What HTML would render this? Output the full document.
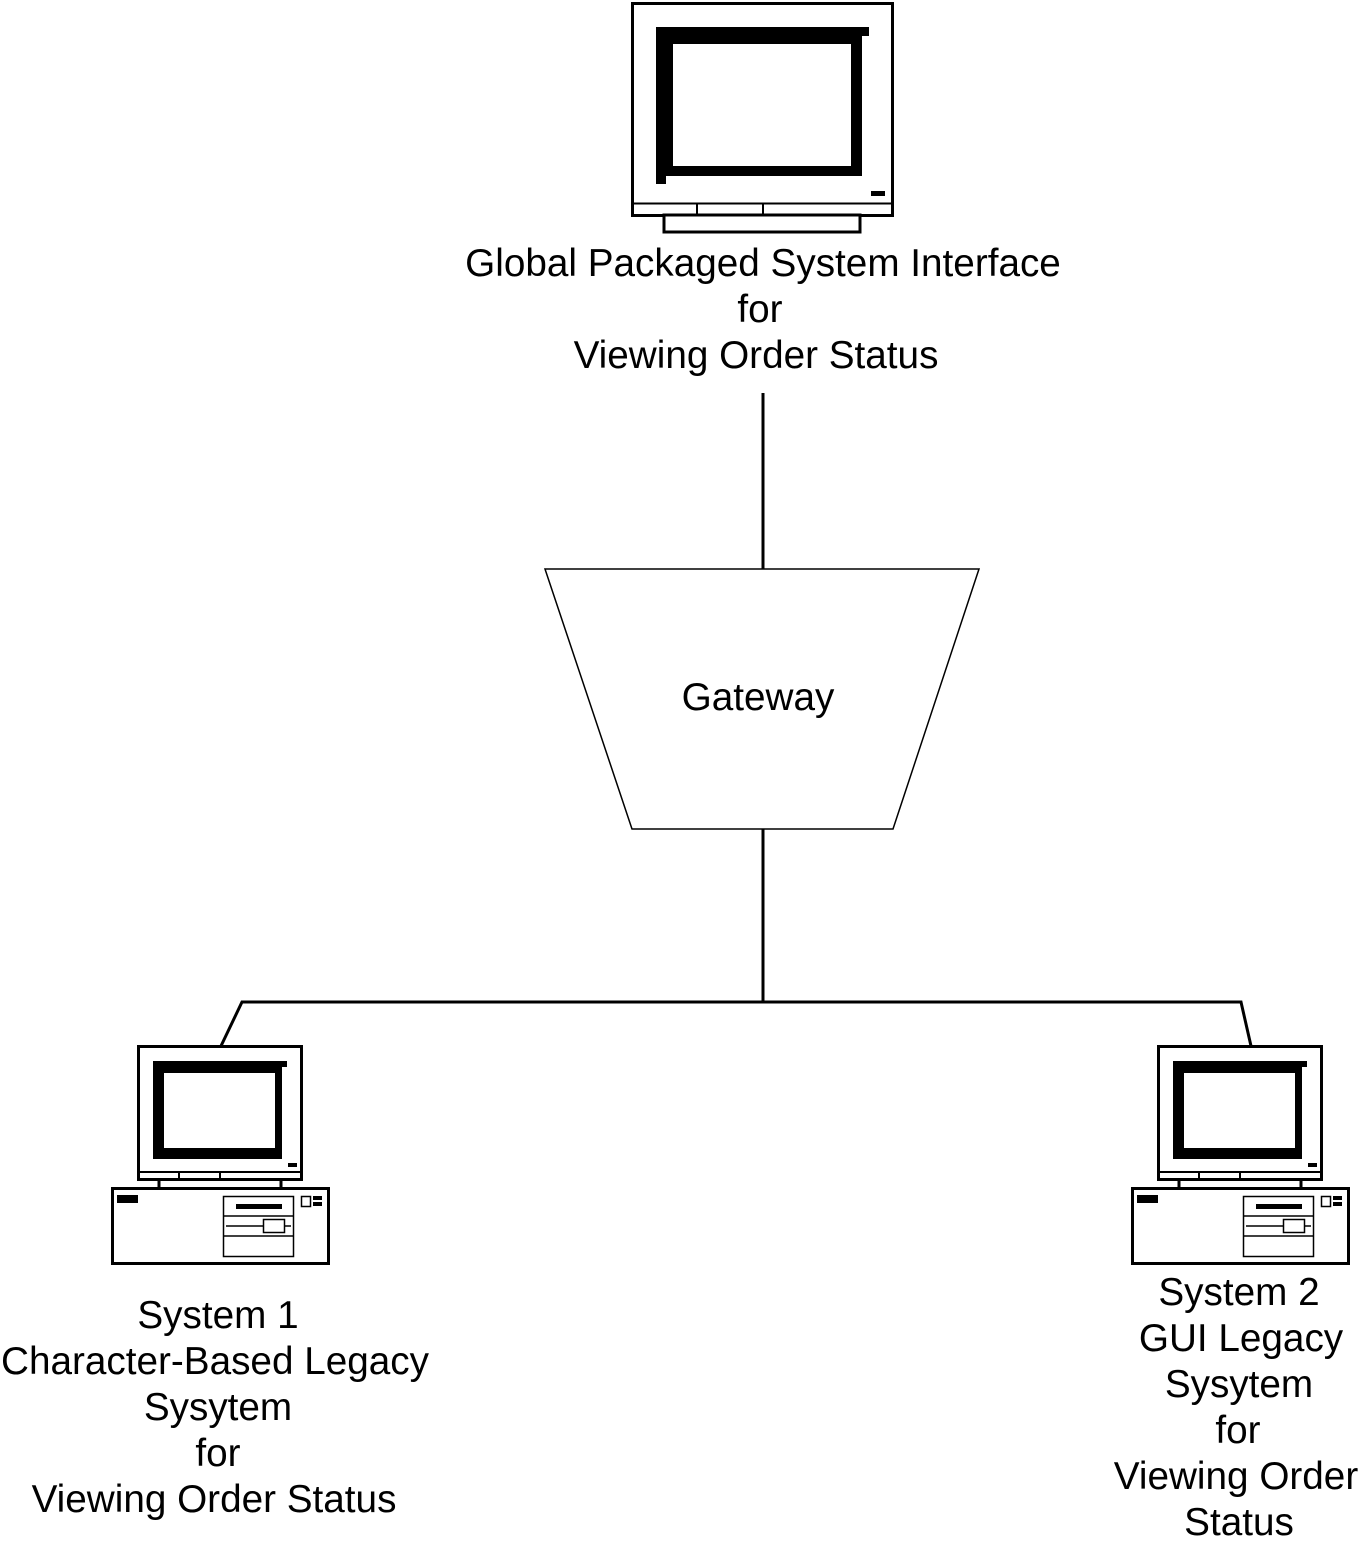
<!DOCTYPE html>
<html><head><meta charset="utf-8"><style>html,body{margin:0;padding:0;background:#fff}svg{display:block}</style></head>
<body>
<svg width="1358" height="1550" viewBox="0 0 1358 1550" xmlns="http://www.w3.org/2000/svg">
<defs>
<g id="pc">
  <rect x="138.5" y="1046.5" width="163" height="133" fill="#fff" stroke="#000" stroke-width="3"/>
  <line x1="138" y1="1172" x2="301" y2="1172" stroke="#000" stroke-width="2"/>
  <line x1="179" y1="1172" x2="179" y2="1180" stroke="#000" stroke-width="2"/>
  <line x1="220" y1="1172" x2="220" y2="1180" stroke="#000" stroke-width="2"/>
  <path d="M153 1061 H287 V1067 H282 V1159 H164 V1159 H159 V1159 H153 Z" fill="#000"/>
  <rect x="164" y="1073" width="111" height="75" fill="#fff"/>
  <rect x="288" y="1163" width="9" height="4" fill="#000"/>
  <line x1="159" y1="1180" x2="159" y2="1188" stroke="#000" stroke-width="3"/>
  <line x1="281" y1="1180" x2="281" y2="1188" stroke="#000" stroke-width="3"/>
  <rect x="112.5" y="1188.5" width="216" height="75" fill="#fff" stroke="#000" stroke-width="3"/>
  <rect x="117" y="1195" width="21" height="8" fill="#000"/>
  <rect x="223.5" y="1196.5" width="70" height="60" fill="none" stroke="#000" stroke-width="1.5"/>
  <line x1="223" y1="1216" x2="294" y2="1216" stroke="#000" stroke-width="1.5"/>
  <line x1="223" y1="1236" x2="294" y2="1236" stroke="#000" stroke-width="1.5"/>
  <rect x="236" y="1204" width="46" height="5" fill="#000"/>
  <line x1="226" y1="1226" x2="291" y2="1226" stroke="#000" stroke-width="1.5"/>
  <rect x="263.5" y="1219.5" width="21" height="13" fill="#fff" stroke="#000" stroke-width="1.5"/>
  <rect x="301.5" y="1196.5" width="9" height="10" fill="#fff" stroke="#000" stroke-width="1.5"/>
  <rect x="313" y="1196" width="9" height="4" fill="#000"/>
  <rect x="313" y="1202" width="9" height="4" fill="#000"/>
</g>
</defs>

<rect x="632.5" y="3.5" width="260" height="212" fill="#fff" stroke="#000" stroke-width="3"/>
<line x1="632" y1="203.5" x2="892" y2="203.5" stroke="#000" stroke-width="2"/>
<line x1="697" y1="203" x2="697" y2="215" stroke="#000" stroke-width="2"/>
<line x1="763" y1="203" x2="763" y2="215" stroke="#000" stroke-width="2"/>
<rect x="664" y="215" width="196" height="17" fill="#fff" stroke="#000" stroke-width="3"/>
<path d="M656 27 H869 V36 H862 V176 H666 V184 H656 Z" fill="#000"/>
<rect x="673" y="44" width="178" height="122" fill="#fff"/>
<rect x="871" y="191" width="14" height="5" fill="#000"/>

<g stroke="#000" stroke-width="3" fill="none">
<line x1="763" y1="393" x2="763" y2="569"/>
<line x1="763" y1="829" x2="763" y2="1002"/>
<polyline points="221,1046 242,1002 1241,1002 1251,1046"/>
</g>
<polygon points="545,569 979,569 893,829 632,829" fill="#fff" stroke="#000" stroke-width="1.5"/>

<g font-family="Liberation Sans, Arial, sans-serif" font-size="38.7" text-anchor="middle" fill="#000">
<text x="763" y="276">Global Packaged System Interface</text>
<text x="760" y="322">for</text>
<text x="756" y="368">Viewing Order Status</text>
<text x="758" y="710">Gateway</text>
<text x="218" y="1328">System 1</text>
<text x="215" y="1374">Character-Based Legacy</text>
<text x="218" y="1420">Sysytem</text>
<text x="218" y="1466">for</text>
<text x="214" y="1512">Viewing Order Status</text>
<text x="1239" y="1305">System 2</text>
<text x="1241" y="1351">GUI Legacy</text>
<text x="1239" y="1397">Sysytem</text>
<text x="1238" y="1443">for</text>
<text x="1236" y="1489">Viewing Order</text>
<text x="1239" y="1535">Status</text>
</g>

<use href="#pc"/>
<use href="#pc" transform="translate(1020,0)"/>
</svg>
</body></html>
